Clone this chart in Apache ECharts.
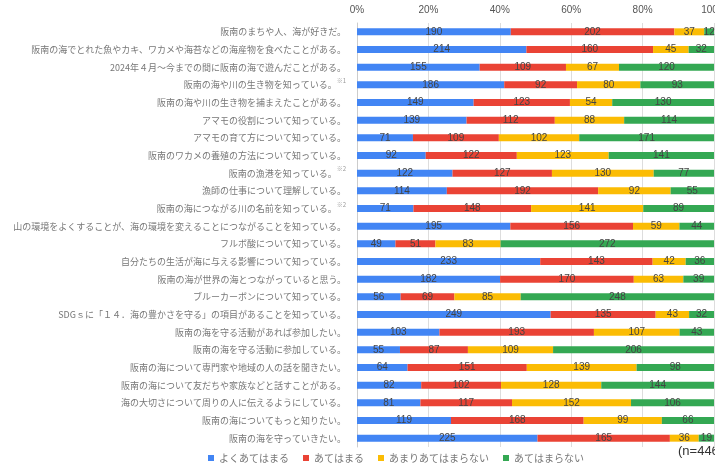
<!DOCTYPE html>
<html><head><meta charset="utf-8">
<script src="https://cdn.jsdelivr.net/npm/echarts@6/dist/echarts.min.js"></script>
<style>html,body{margin:0;padding:0;background:#fff}#c{width:715px;height:470px}</style>
</head><body><div id="c"></div>
<script>
const categories = [
 '阪南のまちや人、海が好きだ。',
 '阪南の海でとれた魚やカキ、ワカメや海苔などの海産物を食べたことがある。',
 '2024年４月～今までの間に阪南の海で遊んだことがある。',
 '阪南の海や川の生き物を知っている。|※1',
 '阪南の海や川の生き物を捕まえたことがある。',
 'アマモの役割について知っている。',
 'アマモの育て方について知っている。',
 '阪南のワカメの養殖の方法について知っている。',
 '阪南の漁港を知っている。|※2',
 '漁師の仕事について理解している。',
 '阪南の海につながる川の名前を知っている。|※2',
 '山の環境をよくすることが、海の環境を変えることにつながることを知っている。',
 'フルボ酸について知っている。',
 '自分たちの生活が海に与える影響について知っている。',
 '阪南の海が世界の海とつながっていると思う。',
 'ブルーカーボンについて知っている。',
 'SDGｓに「１４．海の豊かさを守る」の項目があることを知っている。',
 '阪南の海を守る活動があれば参加したい。',
 '阪南の海を守る活動に参加している。',
 '阪南の海について専門家や地域の人の話を聞きたい。',
 '阪南の海について友だちや家族などと話すことがある。',
 '海の大切さについて周りの人に伝えるようにしている。',
 '阪南の海についてもっと知りたい。',
 '阪南の海を守っていきたい。'
];
const seriesNames = ['よくあてはまる','あてはまる','あまりあてはまらない','あてはまらない'];
const veryTrue   = [190,214,155,186,149,139,71,92,122,114,71,195,49,233,182,56,249,103,55,64,82,81,119,225];
const fairlyTrue = [202,160,109,92,123,112,109,122,127,192,148,156,51,143,170,69,135,193,87,151,102,117,168,165];
const notReally  = [37,45,67,80,54,88,102,123,130,92,141,59,83,42,63,85,43,107,109,139,128,152,99,36];
const notAtAll   = [12,32,120,93,130,114,171,141,77,55,89,44,272,36,39,248,32,43,206,98,144,106,66,19];
const xTicks = ['0%','20%','40%','60%','80%','100%'];
const colors = ['#4285F4','#EA4335','#FBBC04','#34A853'];
const raw = [veryTrue, fairlyTrue, notReally, notAtAll];
const totals = categories.map((_, i) => raw.reduce((s, a) => s + a[i], 0));

const chart = echarts.init(document.getElementById('c'));
chart.setOption({
  animation: false,
  color: colors,
  textStyle: {fontFamily: 'Arial, "Liberation Sans", "Noto Sans CJK JP", sans-serif'},
  grid: {left: 357, right: 1, top: 23, bottom: 23, containLabel: false, outerBoundsMode: 'none'},
  xAxis: {
    type: 'value', position: 'top', min: 0, max: 100, interval: 20,
    axisLabel: {color: '#555', fontSize: 10, margin: 8, formatter: v => xTicks[v / 20]},
    splitLine: {lineStyle: {color: '#ddd'}},
    axisLine: {show: false}, axisTick: {show: false}
  },
  yAxis: {
    type: 'category', inverse: true, data: categories,
    axisLine: {show: true, lineStyle: {color: '#ccc'}}, axisTick: {show: false},
    axisLabel: {
      color: '#777', fontSize: 9, margin: 11,
      fontFamily: '"Noto Sans CJK JP", sans-serif',
      formatter: v => {
        const p = v.split('|');
        return p.length > 1 ? p[0] + '{sup|' + p[1] + '}' : p[0];
      },
      rich: {sup: {fontSize: 6, color: '#999', verticalAlign: 'top', padding: [0, 0, 8, 0]}}
    }
  },
  legend: {
    bottom: 2, left: 203, itemWidth: 6, itemHeight: 6, itemGap: 14, icon: 'rect',
    textStyle: {color: '#777', fontSize: 10, fontFamily: '"Noto Sans CJK JP", sans-serif'},
    data: seriesNames
  },
  graphic: [{
    type: 'text', left: 678, top: 445,
    style: {text: '(n=446)', fill: '#333', fontSize: 13, fontFamily: 'Arial, "Liberation Sans", sans-serif'}
  }],
  series: raw.map((arr, k) => ({
    name: seriesNames[k], type: 'bar', stack: 'all', barWidth: 7,
    data: arr.map((v, i) => ({value: v / totals[i] * 100, raw: v})),
    label: {
      show: true, position: 'inside', color: '#444', fontSize: 10,
      formatter: p => p.data.raw
    }
  }))
});
</script></body></html>
